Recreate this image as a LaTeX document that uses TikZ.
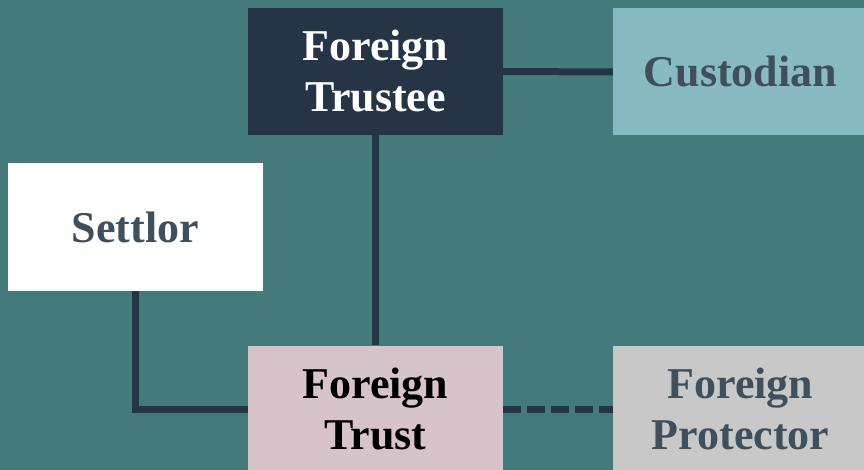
\documentclass[tikz,border=0pt]{standalone}
\usepackage{fontspec}
\setmainfont{Liberation Serif}
\usepackage{tikz}

\definecolor{bgteal}{HTML}{457A7B}
\definecolor{navy}{HTML}{253545}
\definecolor{slate}{HTML}{3F4F5B}
\definecolor{aqua}{HTML}{87BBC1}
\definecolor{blush}{HTML}{D7C4CB}
\definecolor{silver}{HTML}{C8C8C8}

\begin{document}
\begin{tikzpicture}[
   x=1pt,y=-1pt,
   font=\bfseries\fontsize{44}{51}\selectfont,
   party/.style={minimum width=255pt,minimum height=127pt,inner sep=0pt,align=center,text=slate},
   link/.style={navy,line width=7pt},
   loose/.style={link,dash pattern=on 18pt off 6pt}]
\useasboundingbox[fill=bgteal] (0,0) rectangle (864,470);
\node[party,fill=navy,text=white] (trustee) at (375.5,71.5) {Foreign\\Trustee};
\node[party,fill=aqua] (custodian) at (740.5,72) {Custodian};
\node[party,fill=white] (settlor) at (135.5,227) {Settlor};
\node[party,fill=blush,text=black] (trust) at (375.5,409) {Foreign\\Trust};
\node[party,fill=silver] (protector) at (740.5,409) {Foreign\\Protector};
\draw[link] (trustee.east) -- (custodian.west);
\draw[link] (trustee.south) -- (trust.north);
\draw[link] (settlor.south) |- (trust.west);
\draw[loose] (trust.east) -- (protector.west);
\end{tikzpicture}
\end{document}
